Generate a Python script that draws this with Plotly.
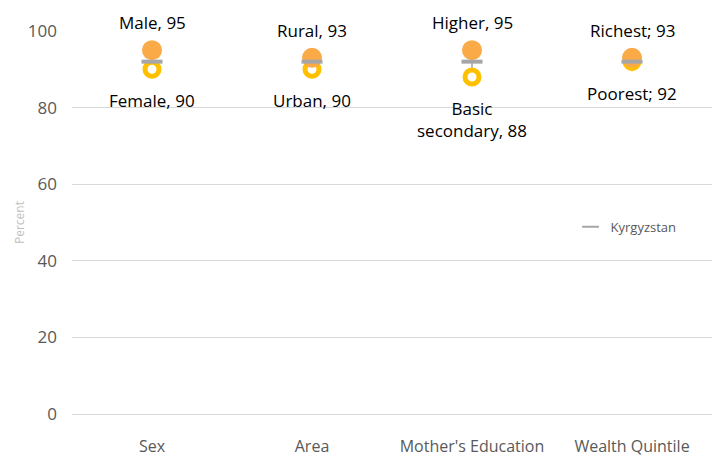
import plotly.graph_objects as go

categories = ["Sex", "Area", "Mother's Education", "Wealth Quintile"]
high_values = [95, 93, 95, 93]
low_values = [90, 90, 88, 92]
high_labels = ["Male, 95", "Rural, 93", "Higher, 95", "Richest; 93"]
low_labels = ["Female, 90", "Urban, 90", "Basic<br>secondary, 88", "Poorest; 92"]
national_name = "Kyrgyzstan"
national_value = [92, 92, 92, 92]
y_ticks = [0, 20, 40, 60, 80, 100]

FONT = "Open Sans"
fig = go.Figure()

# connecting lines
lx, ly = [], []
for c, h, l in zip(categories, high_values, low_values):
    lx += [c, c, None]
    ly += [l, h, None]
fig.add_trace(go.Scatter(x=lx, y=ly, mode="lines", line=dict(color="#A6A6A6", width=1.5),
                         showlegend=False, hoverinfo="skip"))

fig.add_trace(go.Scatter(x=categories, y=low_values, mode="markers", showlegend=False,
                         marker=dict(symbol="circle", size=14, color="white",
                                     line=dict(color="#FFC000", width=5))))
fig.add_trace(go.Scatter(x=categories, y=high_values, mode="markers", showlegend=False,
                         marker=dict(symbol="circle", size=20, color="#FBAA48",
                                     line=dict(width=0))))
fig.add_trace(go.Scatter(x=categories, y=national_value, mode="markers", name=national_name,
                         marker=dict(symbol="line-ew", size=15,
                                     line=dict(color="#A6A6A6", width=4))))

for c, h, t in zip(categories, high_values, high_labels):
    fig.add_annotation(x=c, y=h, text=t, showarrow=False, yanchor="bottom", yshift=14,
                       font=dict(family=FONT, size=17, color="#000000"))
for c, l, t in zip(categories, low_values, low_labels):
    fig.add_annotation(x=c, y=l, text=t, showarrow=False, yanchor="top", yshift=-18,
                       font=dict(family=FONT, size=17, color="#000000"))

fig.update_layout(
    width=720, height=458,
    margin=dict(l=64, r=16, t=23, b=52, autoexpand=False),
    plot_bgcolor="white", paper_bgcolor="white",
    font=dict(family=FONT, color="#595959"),
    showlegend=True,
    legend=dict(x=0.779, y=0.489, xanchor="left", yanchor="middle",
                font=dict(family=FONT, size=13, color="#595959"),
                bgcolor="rgba(0,0,0,0)", itemwidth=30, itemsizing="constant"),
    xaxis=dict(range=[-0.5, 3.5], showgrid=False, showline=False, zeroline=False, ticks="",
               tickfont=dict(family=FONT, size=16, color="#595959"),
               ticklabelstandoff=21, automargin=False),
    yaxis=dict(range=[0, 100], tickvals=y_ticks, showgrid=True, gridcolor="#D9D9D9",
               gridwidth=1, zeroline=True, zerolinecolor="#D9D9D9", zerolinewidth=1,
               showline=False, ticks="", automargin=False,
               tickfont=dict(family=FONT, size=17, color="#595959"),
               ticklabelstandoff=14,
               title=dict(text="Percent", font=dict(family=FONT, size=12, color="#BFBFBF"),
                          standoff=0)),
)

fig.write_html("out.html")
